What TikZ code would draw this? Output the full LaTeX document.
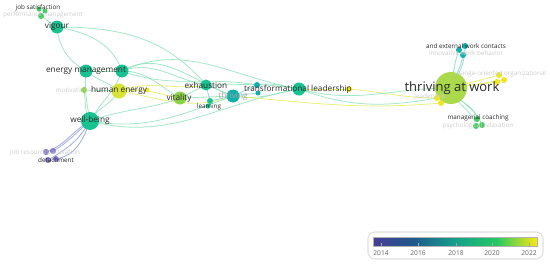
\documentclass[tikz,border=0pt]{standalone}
\usepackage{fontspec}
\setmainfont{Open Sans}
\usetikzlibrary{backgrounds}
\definecolor{txt}{RGB}{40,40,40}
\definecolor{fade}{RGB}{205,205,205}
\definecolor{cteal}{RGB}{25,195,145}
\definecolor{cteal2}{RGB}{16,175,170}
\definecolor{cgreen}{RGB}{70,205,100}
\definecolor{clime}{RGB}{140,210,70}
\definecolor{cyel}{RGB}{240,228,35}
\definecolor{cyg}{RGB}{215,228,55}
\definecolor{cpur}{RGB}{130,120,205}
\definecolor{ctaw}{RGB}{170,218,75}
\definecolor{eg}{RGB}{140,225,185}
\definecolor{ey}{RGB}{225,238,90}
\definecolor{et}{RGB}{120,210,205}
\definecolor{ep}{RGB}{140,150,215}
\definecolor{s0}{RGB}{72,62,150}
\definecolor{s1}{RGB}{30,90,140}
\definecolor{s2}{RGB}{22,160,140}
\definecolor{s3}{RGB}{35,200,100}
\definecolor{s4}{RGB}{250,232,15}
\pgfdeclarehorizontalshading{vos}{100bp}{color(0bp)=(s0); color(25bp)=(s0); color(37.5bp)=(s1); color(50bp)=(s2); color(62.5bp)=(s3); color(75bp)=(s4); color(100bp)=(s4)}
\begin{document}
\begin{tikzpicture}[x=0.02cm,y=-0.02cm,
  dot/.style={circle,inner sep=0pt,minimum size=#1*0.04cm,draw=none},
  lbl/.style={inner sep=0pt,text=txt,font=\fontsize{4.7}{5}\selectfont},
  sml/.style={inner sep=0pt,text=txt,font=\fontsize{3.6}{4}\selectfont},
  fdd/.style={inner sep=0pt,text=fade,font=\fontsize{3.6}{4}\selectfont},
  big/.style={inner sep=0pt,text=txt,font=\fontsize{7.4}{8}\selectfont},
  ed/.style={line width=0.45pt,draw opacity=0.8},
  tick/.style={inner sep=0pt,text=gray!80!black,font=\fontsize{3.8}{4}\selectfont}]
\useasboundingbox (0,0) rectangle (550,264);
% nodes
\node[dot=2.5,fill=cgreen] (js1) at (39,9) {};
\node[dot=2.5,fill=cgreen] (js2) at (45,11) {};
\node[dot=3,fill=cgreen] (js3) at (41,16) {};
\node[dot=6.5,fill=cteal] (vig) at (57,27) {};
\node[dot=6.5,fill=cteal] (em1) at (86,71) {};
\node[dot=6.5,fill=cteal] (em2) at (122,71) {};
\node[dot=3,fill=clime] (mot) at (84,90) {};
\node[dot=7.5,fill=cyg] (he) at (119,91) {};
\node[dot=2.5,fill=cyel] (he2) at (147,90) {};
\node[dot=9,fill=cteal] (wb) at (90,121) {};
\node[dot=3,fill=cpur] (d1) at (46,152) {};
\node[dot=3,fill=cpur] (d2) at (53,151) {};
\node[dot=3,fill=cpur] (d3) at (48,160) {};
\node[dot=3,fill=cpur] (d4) at (56,159) {};
\node[dot=6.5,fill=clime] (vit) at (180,98) {};
\node[dot=5.5,fill=cteal] (exh) at (206,85) {};
\node[dot=3,fill=cteal] (ln1) at (210,101) {};
\node[dot=2.5,fill=cteal] (ln2) at (208,106) {};
\node[dot=6.5,fill=cteal2] (thr) at (233,96) {};
\node[dot=3,fill=cteal2] (tl1) at (257,85) {};
\node[dot=2.5,fill=cteal2] (tl2) at (258,93) {};
\node[dot=6.5,fill=cteal] (tl3) at (299,89) {};
\node[dot=3,fill=cyel] (y1) at (349,89) {};
\node[dot=16,fill=ctaw] (taw) at (451,88) {};
\node[dot=3,fill=cteal2] (t1) at (459,50) {};
\node[dot=3,fill=cteal2] (t2) at (465,46) {};
\node[dot=3,fill=cteal2] (t3) at (463,55) {};
\node[dot=3,fill=cyel] (yr1) at (499,75) {};
\node[dot=3,fill=cyel] (yr2) at (504,80) {};
\node[dot=3,fill=cyel] (yr3) at (497,82) {};
\node[dot=3,fill=cyel] (yl1) at (437,98) {};
\node[dot=3,fill=cyel] (yl2) at (441,103) {};
\node[dot=3,fill=cgreen] (g1) at (477,119) {};
\node[dot=3,fill=cgreen] (g2) at (476,126) {};
\node[dot=3,fill=cgreen] (g3) at (482,125) {};
% edges
\begin{scope}[on background layer]
\draw[ed,eg] (vig.center) -- (js3.center);
\draw[ed,eg] (js1.center) -- (js3.center);
\draw[ed,eg] (vig.center) to[out=-85,in=150] (em1.center);
\draw[ed,eg] (vig.center) to[out=-10,in=110] (em2.center);
\draw[ed,eg] (vig.center) to[out=0,in=130] (exh.center);
\draw[ed,eg] (em1.center) -- (em2.center);
\draw[ed,eg] (em1.center) to[out=-40,in=140] (he.center);
\draw[ed,eg] (em1.center) to[out=-95,in=100] (wb.center);
\draw[ed,eg] (em2.center) to[out=-110,in=60] (wb.center);
\draw[ed,eg] (em2.center) to[out=0,in=150] (vit.center);
\draw[ed,eg] (em2.center) to[out=20,in=170] (exh.center);
\draw[ed,eg] (em2.center) to[out=30,in=160] (thr.center);
\draw[ed,eg] (em2.center) to[out=25,in=170] (tl3.center);
\draw[ed,eg] (em2.center) to[out=-20,in=170] (tl1.center);
\draw[ed,ey] (he.center) -- (he2.center);
\draw[ed,ey] (he.center) to[out=10,in=170] (vit.center);
\draw[ed,ey] (he.center) to[out=20,in=190] (exh.center);
\draw[ed,ey] (he.center) to[out=-10,in=200] (thr.center);
\draw[ed,eg] (mot.center) -- (he.center);
\draw[ed,eg] (mot.center) to[out=-80,in=120] (wb.center);
\draw[ed,eg] (he.center) to[out=-120,in=60] (wb.center);
\draw[ed,ep] (wb.center) to[out=-140,in=30] (d2.center);
\draw[ed,ep] (wb.center) to[out=-150,in=20] (d1.center);
\draw[ed,ep] (wb.center) to[out=-110,in=10] (d4.center);
\draw[ed,ep] (wb.center) to[out=-120,in=30] (d3.center);
\draw[ed,eg] (wb.center) to[out=20,in=200] (vit.center);
\draw[ed,eg] (wb.center) to[out=-10,in=200] (thr.center);
\draw[ed,eg] (wb.center) to[out=-15,in=190] (tl3.center);
\draw[ed,eg] (vit.center) -- (exh.center);
\draw[ed,eg] (vit.center) -- (thr.center);
\draw[ed,eg] (exh.center) -- (thr.center);
\draw[ed,eg] (exh.center) to[out=0,in=170] (tl3.center);
\draw[ed,et] (ln1.center) -- (thr.center);
\draw[ed,et] (exh.center) -- (ln1.center);
\draw[ed,et] (thr.center) -- (tl1.center);
\draw[ed,et] (thr.center) -- (tl2.center);
\draw[ed,eg] (tl1.center) to[out=10,in=170] (tl3.center);
\draw[ed,eg] (thr.center) to[out=-10,in=190] (tl3.center);
\draw[ed,ey] (tl3.center) -- (y1.center);
\draw[ed,ey] (y1.center) to[out=-5,in=180] (yl1.center);
\draw[ed,ey] (thr.center) to[out=-5,in=185] (yl2.center);
\draw[ed,eg] (tl3.center) to[out=-20,in=190] (yl1.center);
\draw[ed,eg] (tl3.center) to[out=-15,in=180] (taw.center);
\draw[ed,et] (taw.center) to[out=80,in=-110] (t1.center);
\draw[ed,et] (taw.center) to[out=70,in=-100] (t3.center);
\draw[ed,et] (taw.center) to[out=60,in=-90] (t2.center);
\draw[ed,ey] (taw.center) -- (yr1.center);
\draw[ed,ey] (taw.center) -- (yr2.center);
\draw[ed,ey] (taw.center) -- (yr3.center);
\draw[ed,ey] (taw.center) -- (yl1.center);
\draw[ed,ey] (taw.center) -- (yl2.center);
\draw[ed,eg] (taw.center) to[out=-70,in=100] (g1.center);
\draw[ed,eg] (taw.center) to[out=-80,in=100] (g2.center);
\draw[ed,eg] (taw.center) to[out=-60,in=110] (g3.center);
\end{scope}
% labels
\node[fdd] (lpm) at (43,15) {performance management};
\node[sml] (ljs) at (38,8) {job satisfaction};
\node[lbl] (lvig) at (57,26) {vigour};
\node[lbl] (lem) at (86,71) {energy management};
\node[fdd,anchor=east] (lmot) at (88,90) {motivation};
\node[lbl] (lhe) at (119,90) {human energy};
\node[lbl] (lwb) at (90,120) {well-being};
\node[fdd] (ljr) at (45,153) {job resources activation};
\node[sml] (ldt) at (56,160) {detachment};
\node[lbl] (lvit) at (179,98) {vitality};
\node[lbl] (lexh) at (206,85) {exhaustion};
\node[sml] (lln) at (209,107) {learning};
\node[lbl,text=gray!70] (lthr) at (233,96) {thriving};
\node[lbl] (ltl) at (298,89) {transformational leadership};
\node[big] (ltaw) at (452,88) {thriving at work};
\node[sml] (lext) at (466,46) {and external work contacts};
\node[fdd] (liwb) at (466,53) {innovative work behavior};
\node[fdd] (lco) at (500,74) {change-oriented organizational};
\node[fdd] (lld) at (430,97) {leadership};
\node[sml] (lmc) at (478,118) {managerial coaching};
\node[fdd] (lpr) at (478,126) {psychological relaxation};
% legend
\node[draw=gray!25,line width=0.6pt,rounded corners=4pt,fill=white,minimum width=175*0.02cm,minimum height=27*0.02cm,inner sep=0pt] (leg) at (455.5,245.5) {};
\node[inner sep=0pt,minimum width=164*0.02cm,minimum height=9*0.02cm,shading=vos,draw=gray!60,line width=0.2pt] (bar) at (455,241.5) {};
\foreach \x/\y in {381/2014,418/2016,456/2018,492/2020,529/2022}{
  \draw[gray!70,line width=0.3pt] (\x,243) -- (\x,247);
  \node[tick] (t\y) at (\x,253) {\y};
}
\end{tikzpicture}
\end{document}
